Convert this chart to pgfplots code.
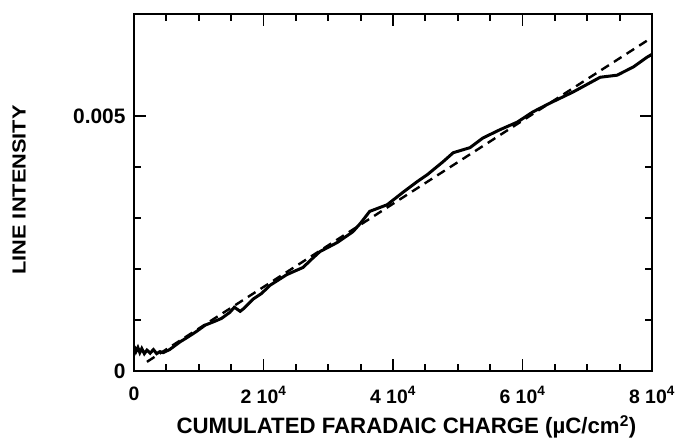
\documentclass[border=0pt]{standalone}
\usepackage{pgfplots}
\pgfplotsset{compat=1.18}
\usepackage{fontspec}
\setmainfont{Liberation Sans}
\begin{document}
\begin{tikzpicture}
\useasboundingbox (-134bp,-68bp) rectangle (543bp,371bp);
\begin{axis}[
  at={(0,0)}, anchor=south west,
  scale only axis,
  width=518bp, height=357bp,
  xmin=0, xmax=80000, ymin=0, ymax=0.007,
  scaled x ticks=false, scaled y ticks=false,
  axis line style={line width=2.2bp},
  every tick/.style={line width=1.8bp, black},
  tick align=inside,
  major tick length=12bp, minor tick length=7bp,
  xtick={0,20000,40000,60000,80000},
  xticklabels={0, 2 10\textsuperscript{4}, 4 10\textsuperscript{4}, 6 10\textsuperscript{4}, 8 10\textsuperscript{4}},
  minor x tick num=3,
  ytick={0,0.005},
  yticklabels={0, 0.005},
  minor y tick num=4,
  xticklabel style={font=\fontsize{19.5}{22}\selectfont\bfseries, anchor=north, yshift=-12bp},
  yticklabel style={font=\fontsize{21}{24}\selectfont\bfseries, anchor=east, xshift=-5bp},
  xlabel={CUMULATED FARADAIC CHARGE (µC/cm\textsuperscript{2})},
  ylabel={\scalebox{1.15}[1]{LINE INTENSITY}},
  xlabel style={font=\fontsize{22.3}{25}\selectfont\bfseries, at={(axis description cs:0.526,-0.176)}, anchor=base},
  ylabel style={font=\fontsize{19}{22}\selectfont\bfseries, at={(axis description cs:-0.222,0.507)}, anchor=center, rotate=0},
]
\addplot[black, line width=3bp] coordinates {
(0,0.00049) (300,0.00038) (600,0.00046) (900,0.00036) (1200,0.00044) (1600,0.00034) (2000,0.00041) (2500,0.00035) (3000,0.00042) (3500,0.00034) (4000,0.00038) (4500,0.00036) (5500,0.00042) (7100,0.00057) (8500,0.00068) (9700,0.00078) (11000,0.00090) (12200,0.00096) (13500,0.00103) (14800,0.00115) (15500,0.00125) (16400,0.00117) (17000,0.00123) (18400,0.00141) (19700,0.00152) (21000,0.00168) (23600,0.00189) (26100,0.00203) (27500,0.00220) (28700,0.00234) (31400,0.00252) (33800,0.00273) (35000,0.00290) (36400,0.00313) (39100,0.00326) (41500,0.00350) (43700,0.00371) (45300,0.00385) (47700,0.00410) (49300,0.00428) (51900,0.00438) (53900,0.00457) (56500,0.00473) (59200,0.00488) (61600,0.00508) (64200,0.00525) (67800,0.00547) (72000,0.00576) (74600,0.00580) (77100,0.00596) (79200,0.00615) (80000,0.00621)
};
\addplot[black, line width=2.4bp, dash pattern=on 9bp off 6bp] coordinates {
(2000,0.00018) (80000,0.00654)
};
\end{axis}
\end{tikzpicture}
\end{document}
